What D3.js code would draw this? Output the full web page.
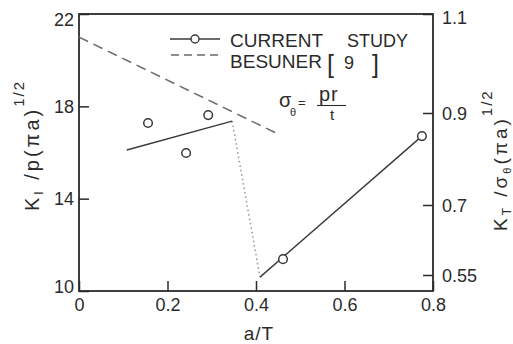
<!DOCTYPE html>
<html>
<head>
<meta charset="utf-8">
<script src="https://cdn.jsdelivr.net/npm/d3@7"></script>
<style>
  html, body { margin: 0; padding: 0; background: #fff; }
  svg { display: block; font-family: "Liberation Sans", Arial, sans-serif; }
  .tick text { font-size: 18px; fill: #2b2b2b; }
</style>
</head>
<body>
<svg id="chart" width="513" height="344"></svg>
<script>
// Crack length ratio a/T and normalised stress intensity K_I / p(pi a)^1/2
const studyX = [0.156, 0.242, 0.292, 0.461, 0.775];
const studyY = [17.28, 15.98, 17.62, 11.38, 16.71];

// Fitted trends through the current study points
const fitLowX = [0.108, 0.346];
const fitLowY = [16.11, 17.36];
const fitHighX = [0.409, 0.775];
const fitHighY = [10.60, 16.71];

// Transition between the two regimes
const jumpX = [0.346, 0.409];
const jumpY = [17.36, 10.60];

// Besuner [9] reference solution
const besunerX = [0.0, 0.45];
const besunerY = [21.0, 16.8];

// Tick labels
const xTicks = [0, 0.2, 0.4, 0.6, 0.8];
const xTickLabels = ["0", "0.2", "0.4", "0.6", "0.8"];
const yTicks = [10, 14, 18, 22];
const yTickLabels = ["10", "14", "18", "22"];
const y2Ticks = [0.55, 0.7, 0.9, 1.1];
const y2TickLabels = ["0.55", "0.7", "0.9", "1.1"];

const svg = d3.select("#chart");
const ink = "#2b2b2b";

const x = d3.scaleLinear().domain([0, 0.8]).range([79, 433]);
const y = d3.scaleLinear().domain([10, 22]).range([291, 14]);
// right-hand scale, K_T / sigma_theta (pi a)^1/2, is hand-graduated
const y2 = d3.scaleLinear().domain([0.55, 0.7, 0.9, 1.1]).range([275, 205, 113, 14]);

// Frame
svg.append("rect")
  .attr("x", x(0)).attr("y", y(22))
  .attr("width", x(0.8) - x(0)).attr("height", y(10) - y(22))
  .attr("fill", "none").attr("stroke", ink).attr("stroke-width", 1.8);

// Bottom axis
const gx = svg.append("g").attr("transform", `translate(0,${y(10)})`)
  .call(d3.axisBottom(x).tickValues(xTicks).tickSize(-10)
    .tickFormat((d, i) => xTickLabels[i]));
gx.select(".domain").remove();
gx.selectAll(".tick line").attr("stroke", ink).attr("stroke-width", 1.5);
gx.selectAll(".tick text").attr("y", 7).attr("dy", "0.71em");

// Left axis
const gy = svg.append("g").attr("transform", `translate(${x(0)},0)`)
  .call(d3.axisLeft(y).tickValues(yTicks).tickSize(-10)
    .tickFormat((d, i) => yTickLabels[i]));
gy.select(".domain").remove();
gy.selectAll(".tick line").attr("stroke", ink).attr("stroke-width", 1.5);
gy.selectAll(".tick text").attr("x", -5)
  .attr("dy", d => d === 22 ? "0.62em" : d === 10 ? "0.1em" : "0.34em");

// Right axis
const gy2 = svg.append("g").attr("transform", `translate(${x(0.8)},0)`)
  .call(d3.axisRight(y2).tickValues(y2Ticks).tickSize(-10)
    .tickFormat((d, i) => y2TickLabels[i]));
gy2.select(".domain").remove();
gy2.selectAll(".tick line").attr("stroke", ink).attr("stroke-width", 1.5);
gy2.selectAll(".tick text").attr("x", 9)
  .attr("dy", d => d === 1.1 ? "0.5em" : "0.34em");

// Lines
const line = d3.line().x(d => x(d[0])).y(d => y(d[1]));
const pairs = (xs, ys) => xs.map((v, i) => [v, ys[i]]);

svg.append("path").datum(pairs(besunerX, besunerY)).attr("d", line)
  .attr("fill", "none").attr("stroke", "#6a6a6a").attr("stroke-width", 1.5)
  .attr("stroke-dasharray", "10,6");

svg.append("path").datum(pairs(jumpX, jumpY)).attr("d", line)
  .attr("fill", "none").attr("stroke", "#9a9a9a").attr("stroke-width", 1.6)
  .attr("stroke-dasharray", "1.5,3");

[pairs(fitLowX, fitLowY), pairs(fitHighX, fitHighY)].forEach(seg => {
  svg.append("path").datum(seg).attr("d", line)
    .attr("fill", "none").attr("stroke", "#3a3a3a").attr("stroke-width", 1.4);
});

// Current study points
svg.append("g").selectAll("circle").data(pairs(studyX, studyY)).join("circle")
  .attr("cx", d => x(d[0])).attr("cy", d => y(d[1])).attr("r", 4.3)
  .attr("fill", "#fff").attr("stroke", "#3a3a3a").attr("stroke-width", 1.5);

// Legend
const lg = svg.append("g").attr("fill", ink).attr("font-size", 18);
lg.append("line").attr("x1", 170).attr("x2", 220).attr("y1", 39).attr("y2", 39)
  .attr("stroke", "#3a3a3a").attr("stroke-width", 1.4);
lg.append("circle").attr("cx", 195).attr("cy", 39).attr("r", 4)
  .attr("fill", "#fff").attr("stroke", "#3a3a3a").attr("stroke-width", 1.4);
lg.append("text").attr("x", 230).attr("y", 47)
  .attr("textLength", 93).attr("lengthAdjust", "spacingAndGlyphs").text("CURRENT");
lg.append("text").attr("x", 347).attr("y", 47)
  .attr("textLength", 61).attr("lengthAdjust", "spacingAndGlyphs").text("STUDY");
lg.append("line").attr("x1", 171).attr("x2", 222).attr("y1", 55).attr("y2", 55)
  .attr("stroke", "#6a6a6a").attr("stroke-width", 1.5).attr("stroke-dasharray", "8,5");
lg.append("text").attr("x", 230).attr("y", 68)
  .attr("textLength", 92).attr("lengthAdjust", "spacingAndGlyphs").text("BESUNER");
lg.append("text").attr("x", 327).attr("y", 73).attr("font-size", 25).text("[");
lg.append("text").attr("x", 344).attr("y", 69).text("9");
lg.append("text").attr("x", 372).attr("y", 73).attr("font-size", 25).text("]");

// sigma_theta = pr / t
const eq = svg.append("g").attr("fill", ink);
eq.append("text").attr("x", 279).attr("y", 107).attr("font-size", 20).text("σ");
eq.append("text").attr("x", 290).attr("y", 116).attr("font-size", 11).text("θ");
eq.append("text").attr("x", 298).attr("y", 107).attr("font-size", 13).text("=");
eq.append("text").attr("x", 319).attr("y", 101).attr("font-size", 20)
  .attr("letter-spacing", 1).text("pr");
eq.append("line").attr("x1", 317).attr("x2", 346).attr("y1", 105.5).attr("y2", 105.5)
  .attr("stroke", ink).attr("stroke-width", 1.1);
eq.append("text").attr("x", 330).attr("y", 120).attr("font-size", 15).text("t");

// Axis titles
svg.append("text").attr("x", 259).attr("y", 340).attr("text-anchor", "middle")
  .attr("font-size", 19).attr("fill", ink).attr("letter-spacing", 1).text("a/T");

const yTitle = svg.append("text").attr("transform", "translate(39,211) rotate(-90)")
  .attr("font-size", 20).attr("fill", ink).attr("letter-spacing", 3);
yTitle.append("tspan").text("K");
yTitle.append("tspan").attr("font-size", 12).attr("dy", 4).text("I");
yTitle.append("tspan").attr("dy", -4).text(" /p(πa)");
yTitle.append("tspan").attr("font-size", 15).attr("dy", -15).attr("letter-spacing", 2).text("1/2");

const y2Title = svg.append("text").attr("transform", "translate(507,231) rotate(-90)")
  .attr("font-size", 19).attr("fill", ink).attr("letter-spacing", 3);
y2Title.append("tspan").text("K");
y2Title.append("tspan").attr("font-size", 12).attr("dy", 4).text("T");
y2Title.append("tspan").attr("dy", -4).text(" /σ");
y2Title.append("tspan").attr("font-size", 11).attr("dy", 4).text("θ");
y2Title.append("tspan").attr("dy", -4).text("(πa)");
y2Title.append("tspan").attr("font-size", 15).attr("dy", -15).attr("letter-spacing", 2).text("1/2");
</script>
</body>
</html>
